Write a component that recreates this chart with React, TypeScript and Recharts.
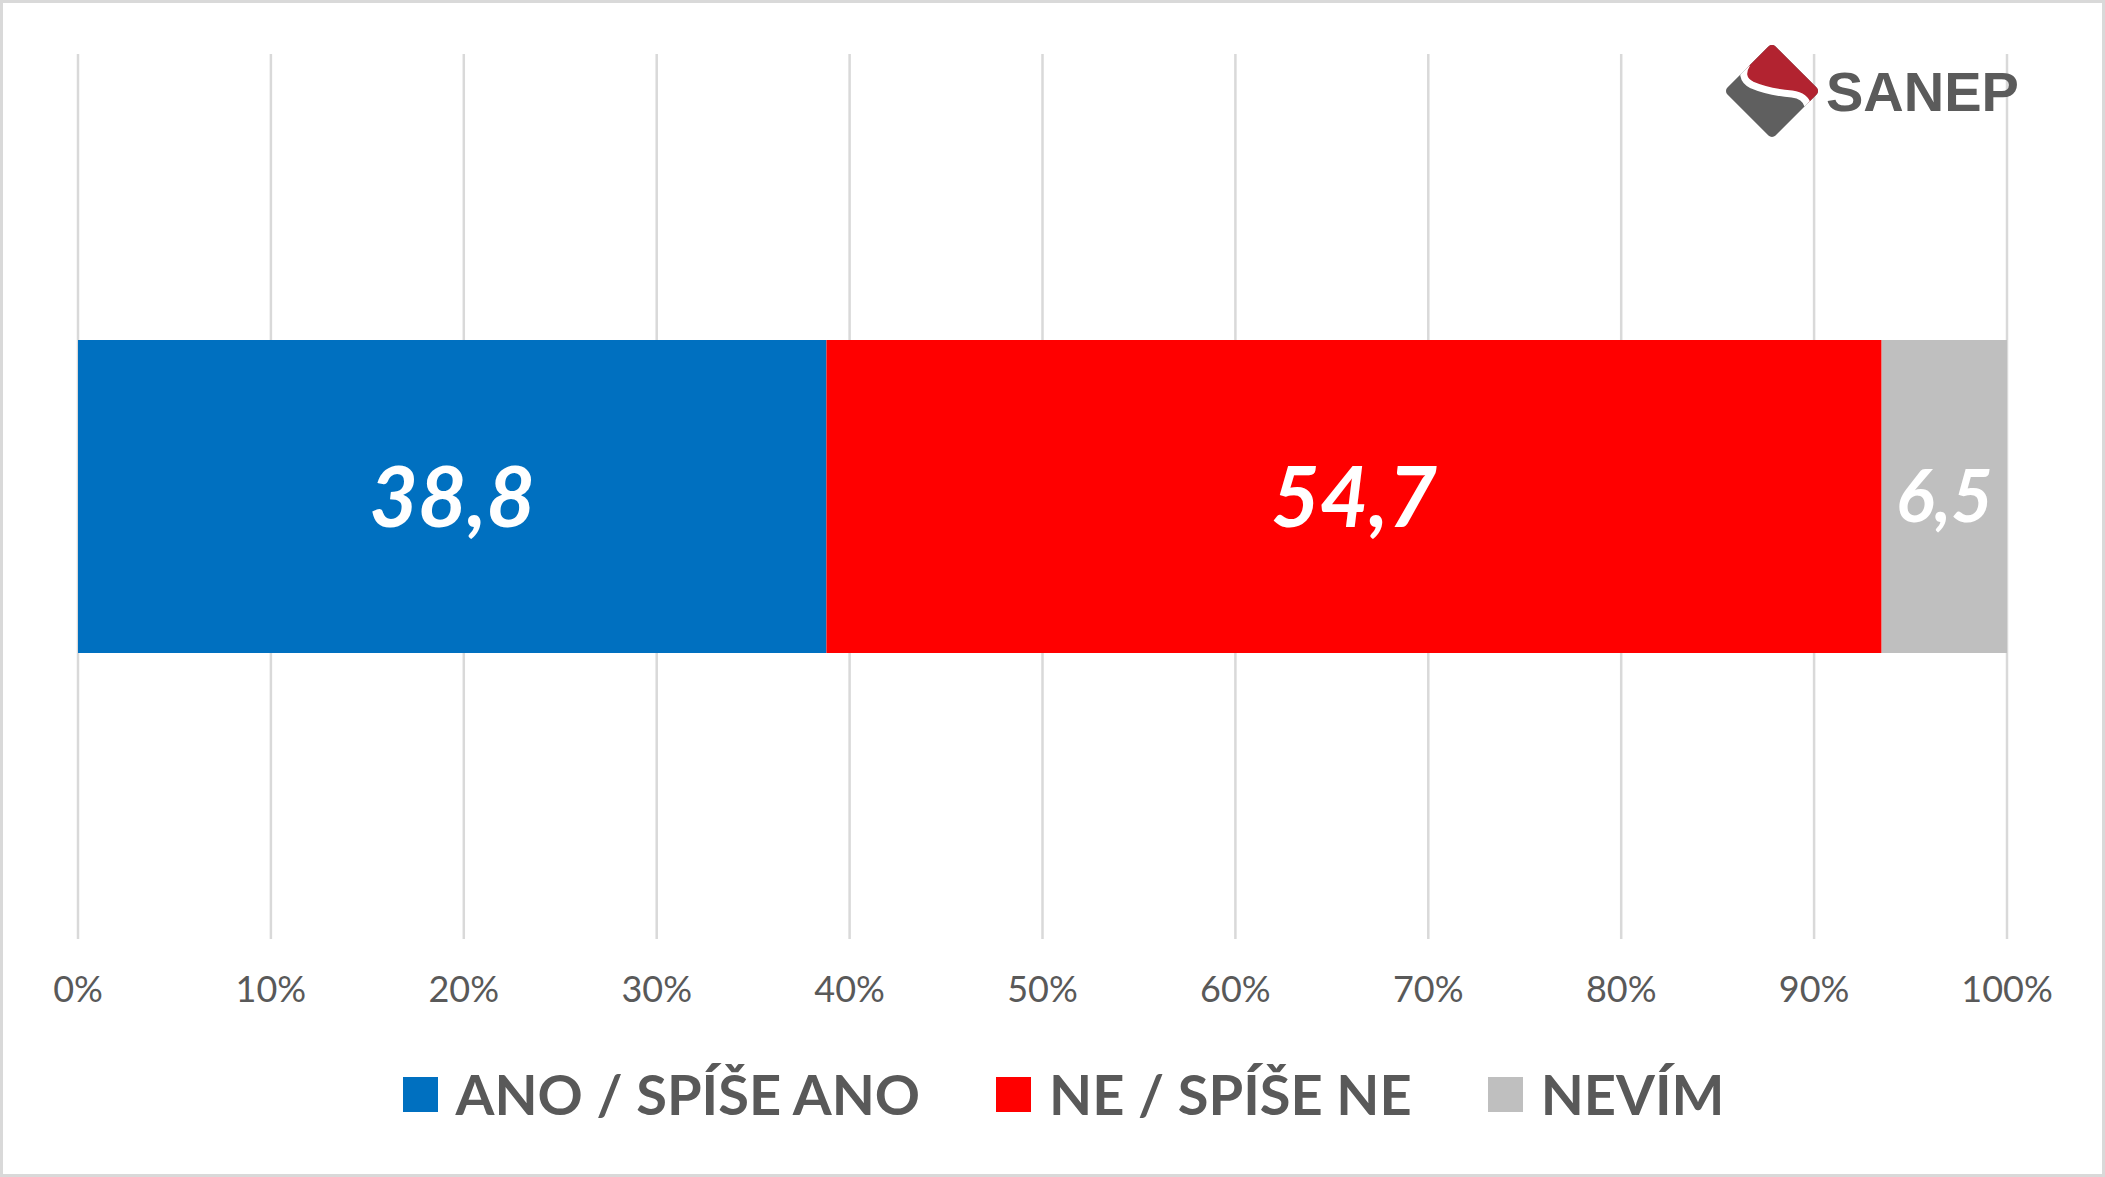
import React from 'react';
import { BarChart, Bar, XAxis, YAxis, CartesianGrid, Legend, LabelList } from 'recharts';

const categories = ['Odpověď'];
const seriesKeys = ['ano', 'ne', 'nevim'];
const seriesNames = ['ANO / SPÍŠE ANO', 'NE / SPÍŠE NE', 'NEVÍM'];
const seriesColors = ['#0070C0', '#FF0000', '#BFBFBF'];
const anoValues = [38.8];
const neValues = [54.7];
const nevimValues = [6.5];
const xTicks = [0, 10, 20, 30, 40, 50, 60, 70, 80, 90, 100];

const data = categories.map((name, i) => ({
    name,
    ano: anoValues[i],
    ne: neValues[i],
    nevim: nevimValues[i],
}));

const labelSizes = [84, 84, 72];

const AxisTick = (props: any) => {
    const { x, y, payload } = props;
    return (
        <text x={x} y={y} dy={55} textAnchor="middle" fill="#595959" fontSize={36} fontFamily="Lato">
            {payload.value}%
        </text>
    );
};

const makeLabel = (size: number) => (props: any) => {
    const { x, y, width, height, value } = props;
    return (
        <text
            x={x + width / 2}
            y={y + height / 2}
            dy={size * 0.36}
            textAnchor="middle"
            fill="#FFFFFF"
            fontSize={size}
            fontWeight={700}
            fontStyle="italic"
            fontFamily="Lato"
        >
            {String(value).replace('.', ',')}
        </text>
    );
};

const LegendContent = () => (
    <div style={{ display: 'flex', justifyContent: 'center', alignItems: 'center', fontFamily: 'Lato' }}>
        {seriesNames.map((name, i) => (
            <div key={name} style={{ display: 'flex', alignItems: 'center', marginRight: i < seriesNames.length - 1 ? 76 : 0 }}>
                <span style={{ width: 35, height: 35, background: seriesColors[i], display: 'inline-block', marginRight: 18 }} />
                <span style={{ fontSize: 56, fontWeight: 700, color: '#595959', lineHeight: 1 }}>{name}</span>
            </div>
        ))}
    </div>
);

const Logo = () => (
    <svg width={2105} height={1177} style={{ position: 'absolute', left: 0, top: 0, pointerEvents: 'none' }}>
        <defs>
            <clipPath id="diamond">
                <rect x={-34} y={-34} width={68} height={68} rx={5} transform="translate(1772,91) rotate(45)" />
            </clipPath>
        </defs>
        <g clipPath="url(#diamond)">
            <rect x={1718} y={37} width={110} height={110} fill="#5F5F5F" />
            <path
                d="M1770,38 L1822,90 L1808,104 C1806,96 1800,94 1792,93 C1780,92 1768,90 1752,84 C1744,80 1744,72 1748,66 L1745,64 Z"
                fill="#B22330"
            />
            <path
                d="M1747,64 C1742,72 1742,80 1752,85 C1766,91 1780,93 1792,94 C1800,95 1806,98 1808,106"
                fill="none"
                stroke="#FFFFFF"
                strokeWidth={7}
            />
        </g>
        <text x={1826} y={111} fontSize={56} fontWeight={700} fontFamily="Liberation Sans" fill="#5B5B5B">
            SANEP
        </text>
    </svg>
);

const App: React.FC = () => {
    return (
        <div style={{ position: 'absolute', left: 0, top: 0, width: 2105, height: 1177, background: '#fff' }}>
            <BarChart
                width={2105}
                height={1177}
                data={data}
                layout="vertical"
                margin={{ top: 54, right: 98, left: 78, bottom: 0 }}
            >
                <CartesianGrid vertical horizontal={false} stroke="#D9D9D9" strokeWidth={2.5} />
                <XAxis
                    type="number"
                    domain={[0, 100]}
                    ticks={xTicks}
                    axisLine={false}
                    tickLine={false}
                    tick={<AxisTick />}
                    height={182}
                    interval={0}
                />
                <YAxis type="category" dataKey="name" hide />
                <Legend
                    content={<LegendContent />}
                    wrapperStyle={{ top: 1066, left: 11, width: 2105 }}
                />
                {seriesKeys.map((key, i) => (
                    <Bar
                        key={key}
                        dataKey={key}
                        name={seriesNames[i]}
                        stackId="a"
                        fill={seriesColors[i]}
                        barSize={313}
                        isAnimationActive={false}
                    >
                        <LabelList dataKey={key} content={makeLabel(labelSizes[i])} />
                    </Bar>
                ))}
            </BarChart>
            <Logo />
            <div
                style={{
                    position: 'absolute',
                    left: 0,
                    top: 0,
                    width: 2105,
                    height: 1177,
                    boxSizing: 'border-box',
                    border: '3px solid #D9D9D9',
                    pointerEvents: 'none',
                }}
            />
        </div>
    );
};

export default App;
